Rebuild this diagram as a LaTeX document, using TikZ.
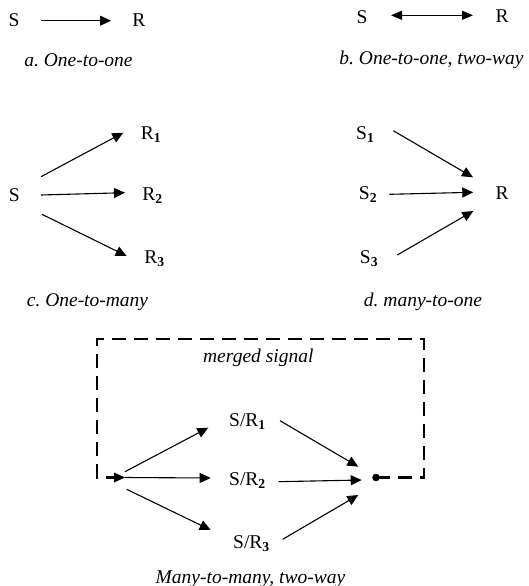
\documentclass[tikz,border=0pt]{standalone}
\usepackage{fontspec}
\setmainfont{Liberation Serif}
\usetikzlibrary{arrows.meta}
\newcommand{\sbx}[1]{\textsubscript{\textbf{#1}}}
\frenchspacing
\begin{document}
\begin{tikzpicture}[x=1pt,y=-1pt,
  lbl/.style={anchor=base,inner sep=0pt,font=\fontsize{19.5}{23}\selectfont},
  captxt/.style={anchor=base,inner sep=0pt,font=\fontsize{19.5}{23}\selectfont\itshape},
  arr/.style={line width=1.1pt,-{Triangle[length=11pt,width=10pt]}},
  darr/.style={line width=1.1pt,{Triangle[length=11pt,width=9pt]}-{Triangle[length=11pt,width=9pt]}},
  dsh/.style={line width=2.2pt,dash pattern=on 14pt off 8pt}]
\useasboundingbox (0,0) rectangle (528,586);
% a
\node[lbl] (aS) at (14,27) {S};
\node[lbl] (aR) at (139,27) {R};
\node[captxt] (aC) at (78.5,66.7) {a. One-to-one};
\coordinate (a1) at (41,20.7); \coordinate (a2) at (111,20.7);
\draw[arr] (a1) -- (a2);
% b
\node[lbl] (bS) at (362,23.3) {S};
\node[lbl] (bR) at (502,23) {R};
\node[captxt] (bC) at (431.5,65) {b. One-to-one, two-way};
\coordinate (b1) at (391,15.3); \coordinate (b2) at (473,15.3);
\draw[darr] (b1) -- (b2);
% c
\node[lbl] (cS) at (14.3,201) {S};
\node[lbl] (cR1) at (151,139) {R\sbx{1}};
\node[lbl] (cR2) at (152.5,200) {R\sbx{2}};
\node[lbl] (cR3) at (154.5,263) {R\sbx{3}};
\node[captxt] (cC) at (87.5,306) {c. One-to-many};
\coordinate (c1s) at (41,176.7); \coordinate (c1e) at (123.3,132.7);
\coordinate (c2s) at (41,195); \coordinate (c2e) at (125,192.7);
\coordinate (c3s) at (42,214.3); \coordinate (c3e) at (126.7,256);
\draw[arr] (c1s) -- (c1e);
\draw[arr] (c2s) -- (c2e);
\draw[arr] (c3s) -- (c3e);
% d
\node[lbl] (dS1) at (365.3,139.3) {S\sbx{1}};
\node[lbl] (dS2) at (368,199) {S\sbx{2}};
\node[lbl] (dS3) at (369,263) {S\sbx{3}};
\node[lbl] (dR) at (502,199) {R};
\node[captxt] (dC) at (423,306) {d. many-to-one};
\coordinate (d1s) at (393.3,130.7); \coordinate (d1e) at (473,177.3);
\coordinate (d2s) at (389.3,194.3); \coordinate (d2e) at (473.3,192.3);
\coordinate (d3s) at (397.3,255); \coordinate (d3e) at (473.3,211);
\draw[arr] (d1s) -- (d1e);
\draw[arr] (d2s) -- (d2e);
\draw[arr] (d3s) -- (d3e);
% e
\node[lbl] (eR1) at (247.5,426.7) {S/R\sbx{1}};
\node[lbl] (eR2) at (247.5,485) {S/R\sbx{2}};
\node[lbl] (eR3) at (251.5,548.3) {S/R\sbx{3}};
\node[captxt] (eM) at (258.3,362) {merged signal};
\node[captxt] (eC) at (250.5,583.3) {Many-to-many, two-way};
\coordinate (dot) at (376,477.5);
\coordinate (src) at (125,477.5);
\coordinate (k1) at (424,477.5); \coordinate (k2) at (424,339.3);
\coordinate (k3) at (97,339.3); \coordinate (k4) at (97,477.5);
\draw[dsh] (dot) -- (k1) -- (k2) -- (k3) -- (k4) -- (src);
\fill (src) -- ++(-11,-5) -- ++(0,10) -- cycle;
\fill (dot) circle (3.8);
\coordinate (e1s) at (125,471.7); \coordinate (e1e) at (208.3,427.7);
\coordinate (e2e) at (210.7,478);
\coordinate (e3s) at (126.7,489.3); \coordinate (e3e) at (210.7,530);
\draw[arr] (e1s) -- (e1e);
\draw[arr] (src) -- (e2e);
\draw[arr] (e3s) -- (e3e);
\coordinate (f1s) at (280,420.7); \coordinate (f1e) at (358.3,466.7);
\coordinate (f2s) at (278.3,481.7); \coordinate (f2e) at (361.7,480);
\coordinate (f3s) at (282.7,539.3); \coordinate (f3e) at (358.3,495);
\draw[arr] (f1s) -- (f1e);
\draw[arr] (f2s) -- (f2e);
\draw[arr] (f3s) -- (f3e);
\end{tikzpicture}
\end{document}
